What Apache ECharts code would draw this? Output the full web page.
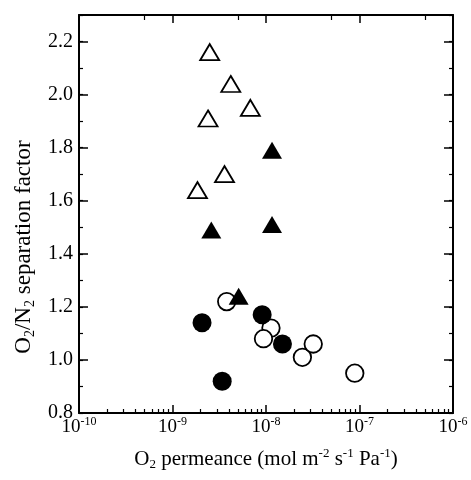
<!DOCTYPE html>
<html>
<head>
<meta charset="utf-8">
<script src="https://cdn.jsdelivr.net/npm/echarts@6.0.0/dist/echarts.min.js"></script>
<style>
  html, body { margin: 0; padding: 0; background: #fff; }
  #main { width: 471px; height: 480px; }
</style>
</head>
<body>
<div id="main"></div>
<script>
// O2 permeance (mol m-2 s-1 Pa-1) vs O2/N2 separation factor
const openCircleX = [3.8e-9, 1.13e-8, 9.4e-9, 2.45e-8, 3.2e-8, 8.9e-8];
const openCircleY = [1.22, 1.12, 1.08, 1.01, 1.06, 0.95];
const fillCircleX = [2.07e-9, 9.1e-9, 1.5e-8, 3.4e-9];
const fillCircleY = [1.14, 1.17, 1.06, 0.92];
const openTriX = [2.5e-9, 4.2e-9, 6.8e-9, 2.4e-9, 3.6e-9, 1.85e-9];
const openTriY = [2.16, 2.04, 1.95, 1.91, 1.70, 1.64];
const fillTriX = [1.16e-8, 2.6e-9, 1.16e-8, 5.1e-9];
const fillTriY = [1.79, 1.49, 1.51, 1.24];

// axis ticks
const decades = [-10, -9, -8, -7];
const minorMult = [2, 3, 4, 5, 6, 7, 8, 9];
const topMult = [5];

const FONT = 'Liberation Serif';

function pairs(xs, ys) {
    return xs.map(function (x, i) { return [x, ys[i]]; });
}
function logTicks(mults) {
    let out = [];
    decades.forEach(function (d) {
        mults.forEach(function (m) { out.push(d + Math.log10(m)); });
    });
    return out;
}
// rich text styles: t = normal, s = subscript, p = superscript
function richSet(big, small) {
    return {
        t: {fontFamily: FONT, fontSize: big, lineHeight: big + 3, color: '#000', verticalAlign: 'middle'},
        s: {fontFamily: FONT, fontSize: small, lineHeight: small, color: '#000', verticalAlign: 'bottom'},
        p: {fontFamily: FONT, fontSize: small, lineHeight: small, color: '#000', verticalAlign: 'top'}
    };
}

const lineStyle = {color: '#000', width: 2};

let myChart = echarts.init(document.getElementById('main'));
let option = {
    animation: false,
    backgroundColor: '#fff',
    grid: {left: 79, right: 18, top: 15, bottom: 67, outerBoundsMode: 'none'},
    xAxis: [
        {
            type: 'log', logBase: 10, min: 1e-10, max: 1e-6, position: 'bottom',
            axisLine: {lineStyle: lineStyle},
            axisTick: {inside: true, length: 8, lineStyle: {width: 1.5, color: '#000'}},
            splitLine: {show: false},
            axisLabel: {
                margin: 3,
                formatter: function (v) {
                    return '{t|10}{p|' + Math.round(Math.log10(v)) + '}';
                },
                rich: richSet(19, 12)
            },
            name: '{t|O}{s|2}{t| permeance (mol m}{p|-2}{t| s}{p|-1}{t| Pa}{p|-1}{t|)}',
            nameLocation: 'middle',
            nameGap: 34,
            nameTextStyle: {rich: richSet(21, 13)}
        },
        {
            type: 'value', min: -10, max: -6, position: 'bottom',
            axisLine: {show: false},
            axisTick: {inside: true, length: 4, customValues: logTicks(minorMult), lineStyle: {width: 1.2, color: '#000'}},
            axisLabel: {show: false},
            splitLine: {show: false}
        },
        {
            type: 'log', logBase: 10, min: 1e-10, max: 1e-6, position: 'top',
            axisLine: {lineStyle: lineStyle},
            axisTick: {inside: true, length: 8, lineStyle: {width: 1.5, color: '#000'}},
            axisLabel: {show: false},
            splitLine: {show: false}
        },
        {
            type: 'value', min: -10, max: -6, position: 'top',
            axisLine: {show: false},
            axisTick: {inside: true, length: 5, customValues: logTicks(topMult), lineStyle: {width: 1.2, color: '#000'}},
            axisLabel: {show: false},
            splitLine: {show: false}
        }
    ],
    yAxis: [
        {
            type: 'value', min: 0.8, max: 2.3, interval: 0.2, position: 'left',
            axisLine: {show: true, lineStyle: lineStyle},
            axisTick: {show: true, inside: true, length: 9, lineStyle: {width: 1.5, color: '#000'}},
            splitLine: {show: false},
            axisLabel: {
                margin: 6, showMaxLabel: false,
                fontFamily: FONT, fontSize: 20, color: '#000',
                formatter: function (v) { return v.toFixed(1); }
            },
            name: '{t|O}{s|2}{t|/N}{s|2}{t| separation factor}',
            nameLocation: 'middle',
            nameGap: 41,
            nameTextStyle: {rich: richSet(23, 14), padding: [0, 66, 0, 0]}
        },
        {
            type: 'value', min: 0.8, max: 2.3, interval: 0.1, position: 'left',
            axisLine: {show: false},
            axisTick: {show: true, inside: true, length: 4, lineStyle: {width: 1.2, color: '#000'}},
            axisLabel: {show: false},
            splitLine: {show: false}
        },
        {
            type: 'value', min: 0.8, max: 2.3, interval: 0.2, position: 'right',
            axisLine: {show: true, lineStyle: lineStyle},
            axisTick: {show: true, inside: true, length: 9, lineStyle: {width: 1.5, color: '#000'}},
            axisLabel: {show: false},
            splitLine: {show: false}
        },
        {
            type: 'value', min: 0.8, max: 2.3, interval: 0.1, position: 'right',
            axisLine: {show: false},
            axisTick: {show: true, inside: true, length: 4, lineStyle: {width: 1.2, color: '#000'}},
            axisLabel: {show: false},
            splitLine: {show: false}
        }
    ],
    series: [
        {
            type: 'scatter', symbol: 'circle', symbolSize: 17.5,
            data: pairs(openCircleX, openCircleY),
            itemStyle: {color: '#fff', borderColor: '#000', borderWidth: 1.8, opacity: 1}
        },
        {
            type: 'scatter', symbol: 'circle', symbolSize: 19,
            data: pairs(fillCircleX, fillCircleY),
            itemStyle: {color: '#000', opacity: 1}
        },
        {
            type: 'scatter', symbol: 'triangle', symbolSize: [19, 16],
            data: pairs(openTriX, openTriY),
            itemStyle: {color: '#fff', borderColor: '#000', borderWidth: 1.8, opacity: 1}
        },
        {
            type: 'scatter', symbol: 'triangle', symbolSize: [20, 17],
            data: pairs(fillTriX, fillTriY),
            itemStyle: {color: '#000', opacity: 1}
        }
    ]
};
myChart.setOption(option);
</script>
</body>
</html>
